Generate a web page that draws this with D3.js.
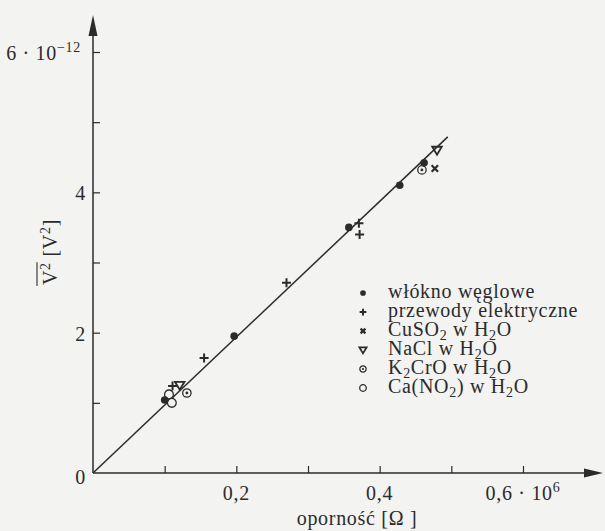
<!DOCTYPE html>
<html><head><meta charset="utf-8">
<script src="https://cdn.jsdelivr.net/npm/d3@7"></script>
<style>
html,body{margin:0;padding:0;background:#f3f3f2;}
svg{display:block;}
</style></head>
<body>
<svg id="c" width="605" height="531"></svg>
<script>
// ---- data ----
const xTicks = [0.1, 0.2, 0.3, 0.4, 0.5, 0.6];
const xTickLabels = ["", "0,2", "", "0,4", "", "0,6 · 10"];
const yTicks = [1, 2, 3, 4, 5, 6];
const yTickLabels = ["", "2", "", "4", "", "6 · 10"];
const seriesNames = ["włókno węglowe", "przewody elektryczne", "CuSO2 w H2O", "NaCl w H2O", "K2CrO w H2O", "Ca(NO2) w H2O"];
const carbonX = [0.100, 0.197, 0.357, 0.428, 0.462];
const carbonY = [1.04, 1.95, 3.50, 4.10, 4.42];
const wiresX = [0.111, 0.155, 0.270, 0.371, 0.372];
const wiresY = [1.24, 1.64, 2.71, 3.56, 3.40];
const cusoX = [0.477];
const cusoY = [4.34];
const naclX = [0.121, 0.480];
const naclY = [1.25, 4.60];
const k2croX = [0.131, 0.459];
const k2croY = [1.14, 4.32];
const canoX = [0.110, 0.106];
const canoY = [1.00, 1.12];
const fitX = [0, 0.495];
const fitY = [0, 4.79];

const FONT = '"Liberation Serif"';
const ink = "#2b2b2b";
const svg = d3.select("#c");
const x = d3.scaleLinear().domain([0, 0.6]).range([93, 523]);
const y = d3.scaleLinear().domain([0, 6]).range([473, 52]);

function txt(sel) {
  return sel.append("text").style("font-family", FONT).style("letter-spacing", "0.7px").attr("fill", ink);
}

// axes lines with arrows
svg.append("line").attr("x1", x(0)).attr("x2", 590).attr("y1", y(0)).attr("y2", y(0)).attr("stroke", ink).attr("stroke-width", 1.5);
svg.append("line").attr("x1", x(0)).attr("x2", x(0)).attr("y1", y(0)).attr("y2", 28).attr("stroke", ink).attr("stroke-width", 1.5);
svg.append("path").attr("d", `M${x(0)},15 L${x(0)-4.5},36 L${x(0)+4.5},36 Z`).attr("fill", ink);
svg.append("path").attr("d", `M603,${y(0)} L584,${y(0)-4.5} L584,${y(0)+4.5} Z`).attr("fill", ink);

// ticks via d3 axes
const gx = svg.append("g").attr("transform", `translate(0,${y(0)})`)
  .call(d3.axisTop(x).tickValues(xTicks).tickSize(7).tickFormat(""));
gx.select(".domain").remove();
gx.selectAll(".tick line").attr("stroke", ink).attr("stroke-width", 1.2);
const gy = svg.append("g").attr("transform", `translate(${x(0)},0)`)
  .call(d3.axisRight(y).tickValues(yTicks).tickSize(7).tickFormat(""));
gy.select(".domain").remove();
gy.selectAll(".tick line").attr("stroke", ink).attr("stroke-width", 1.2);

const fs = 20;
const sfs = 14;
// x tick labels
xTicks.forEach((v, i) => {
  const lab = xTickLabels[i];
  if (!lab) return;
  const t = txt(svg).attr("font-size", fs).attr("y", 500).attr("x", x(v)).attr("text-anchor", "middle");
  t.append("tspan").text(lab);
  if (i === 5) t.append("tspan").attr("dy", -8).attr("font-size", sfs).text("6");
});
txt(svg).attr("font-size", fs).attr("x", 86).attr("y", y(0) + 11).attr("text-anchor", "end").text("0");
// y tick labels
yTicks.forEach((v, i) => {
  const lab = yTickLabels[i];
  if (!lab) return;
  const t = txt(svg).attr("font-size", fs).attr("y", y(v) + 8);
  if (i === 5) {
    t.attr("x", 81).attr("text-anchor", "end");
    t.append("tspan").text(lab);
    t.append("tspan").attr("dy", -8).attr("font-size", sfs).text("−12");
  } else {
    t.attr("x", 86).attr("text-anchor", "end").text(lab);
  }
});

// axis titles
txt(svg).attr("font-size", fs).attr("x", 357).attr("y", 525).attr("text-anchor", "middle").text("oporność [Ω ]");

const yg = svg.append("g").attr("transform", "translate(57,252) rotate(-90)");
const yt = txt(yg).attr("font-size", fs).attr("x", 0).attr("y", 0);
const tV = yt.append("tspan").text("V");
const t2 = yt.append("tspan").attr("dy", -7).attr("font-size", sfs).text("2");
yt.append("tspan").attr("dy", 7).text(" [V");
yt.append("tspan").attr("dy", -7).attr("font-size", sfs).text("2");
yt.append("tspan").attr("dy", 7).text("]");
const total = yt.node().getComputedTextLength();
yt.attr("x", -total / 2);
const overLen = tV.node().getComputedTextLength() + t2.node().getComputedTextLength();
yg.append("line").attr("x1", -total / 2 - 1).attr("x2", -total / 2 + overLen)
  .attr("y1", -20).attr("y2", -20).attr("stroke", ink).attr("stroke-width", 1.1);

// fit line
svg.append("path").datum(fitX.map((v, i) => [v, fitY[i]]))
  .attr("d", d3.line().x(d => x(d[0])).y(d => y(d[1])))
  .attr("stroke", ink).attr("stroke-width", 1.5).attr("fill", "none");

// marker drawers
function drawMarker(g, type, s) {
  if (type === 0) {
    g.append("circle").attr("r", 3.8 * s).attr("fill", ink);
  } else if (type === 1) {
    g.append("path").attr("d", `M${-4.5*s},0 H${4.5*s} M0,${-4.5*s} V${4.5*s}`).attr("stroke", ink).attr("stroke-width", 2);
  } else if (type === 2) {
    g.append("path").attr("d", `M${-3.2*s},${-3.2*s} L${3.2*s},${3.2*s} M${-3.2*s},${3.2*s} L${3.2*s},${-3.2*s}`).attr("stroke", ink).attr("stroke-width", 2.2);
  } else if (type === 3) {
    g.append("path").attr("d", `M${-4.8*s},${-3.5*s} L${4.8*s},${-3.5*s} L0,${4.5*s} Z`).attr("stroke", ink).attr("stroke-width", 1.8).attr("fill", "none");
  } else if (type === 4) {
    g.append("circle").attr("r", 4.2 * s).attr("stroke", ink).attr("stroke-width", 1.3).attr("fill", "none");
    g.append("circle").attr("r", 1.4 * s).attr("fill", ink);
  } else {
    g.append("circle").attr("r", 4.4 * s).attr("stroke", ink).attr("stroke-width", 1.3).attr("fill", "#f3f3f2");
  }
}

const series = [
  [carbonX, carbonY], [wiresX, wiresY], [cusoX, cusoY],
  [naclX, naclY], [k2croX, k2croY], [canoX, canoY]
];
const drawOrder = [5, 4, 3, 2, 1, 0];
drawOrder.forEach(si => {
  const [xs, ys] = series[si];
  xs.forEach((v, i) => {
    const g = svg.append("g").attr("transform", `translate(${x(v)},${y(ys[i])})`);
    drawMarker(g, si, 1);
  });
});

// legend
seriesNames.forEach((name, i) => {
  const by = 298 + i * 19;
  const g = svg.append("g").attr("transform", `translate(363,${by - 5})`);
  drawMarker(g, i, 0.75);
  const t = txt(svg).attr("font-size", fs).attr("x", 388).attr("y", by);
  let parts;
  if (i === 2) parts = [["CuSO", 0], ["2", 1], [" w H", 0], ["2", 1], ["O", 0]];
  else if (i === 3) parts = [["NaCl w H", 0], ["2", 1], ["O", 0]];
  else if (i === 4) parts = [["K", 0], ["2", 1], ["CrO w H", 0], ["2", 1], ["O", 0]];
  else if (i === 5) parts = [["Ca(NO", 0], ["2", 1], [") w H", 0], ["2", 1], ["O", 0]];
  else parts = [[name, 0]];
  let prevSub = 0;
  parts.forEach(([s, sub]) => {
    const ts = t.append("tspan").text(s);
    const dy = (sub ? 4 : 0) - (prevSub ? 4 : 0);
    if (dy) ts.attr("dy", dy);
    if (sub) ts.attr("font-size", sfs);
    prevSub = sub;
  });
});
</script>
</body></html>
